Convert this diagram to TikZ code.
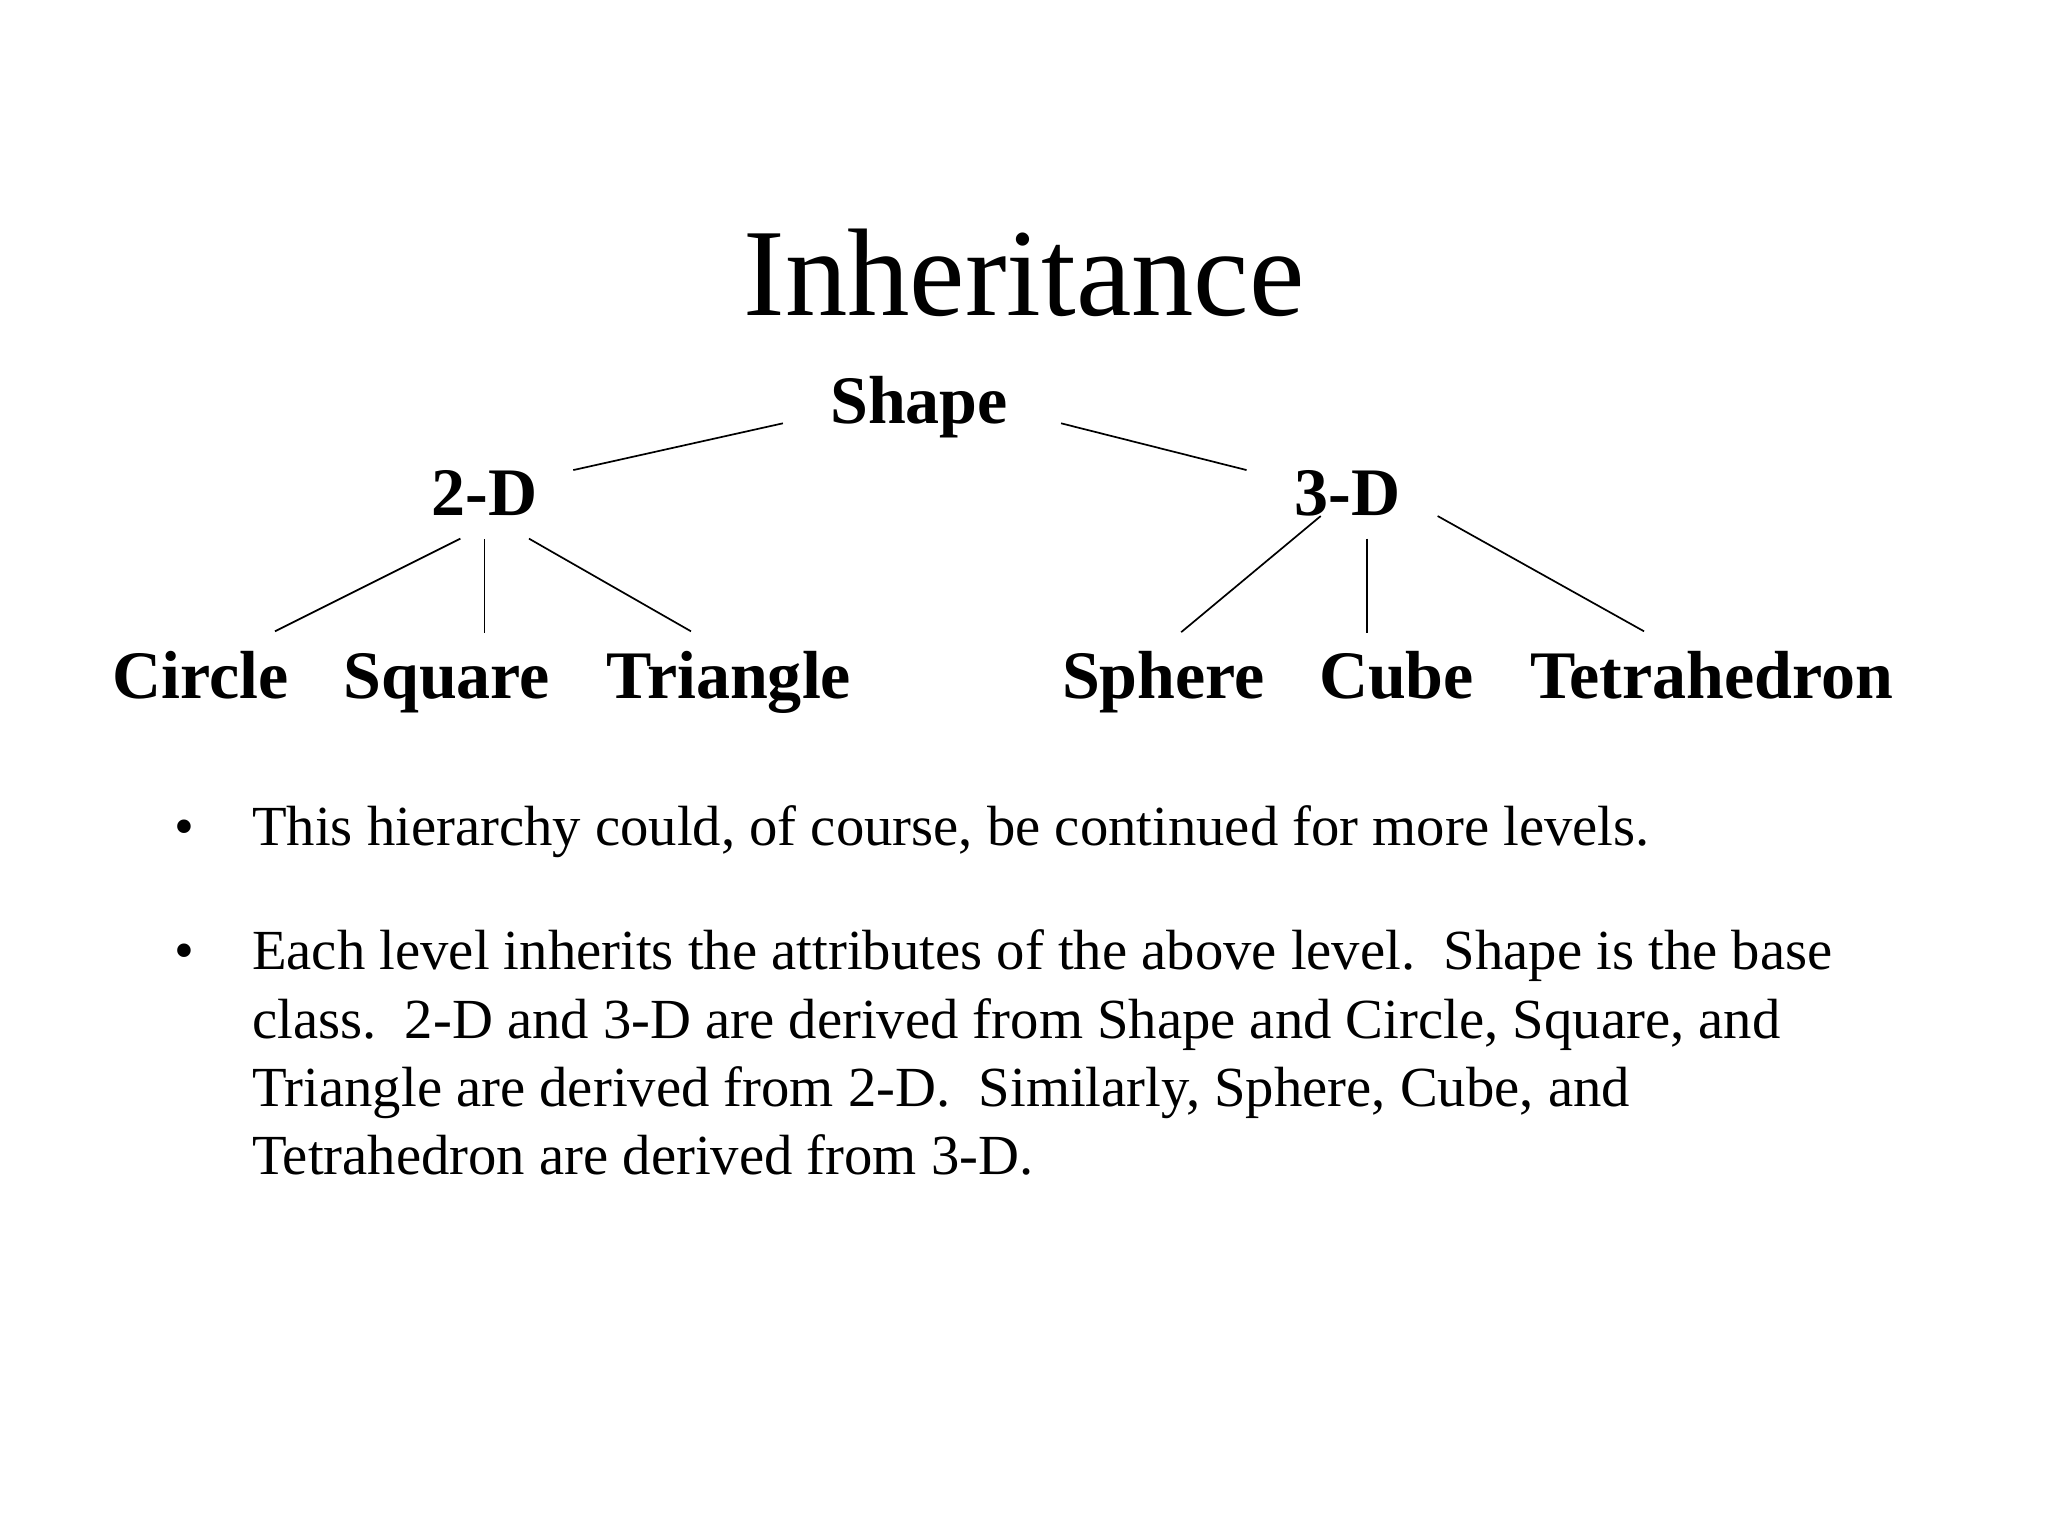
\documentclass[tikz,border=0pt]{standalone}
\usepackage{fontspec}
\setmainfont{Liberation Serif}
\usetikzlibrary{calc, positioning}

\begin{document}
\begin{tikzpicture}[
    level/.style={font=\fontsize{24}{28}\selectfont\bfseries, inner sep=0pt, anchor=base},
    edge/.style={line width=0.6pt},
    dot/.style={font=\fontsize{20}{24}\selectfont, inner sep=0pt, anchor=base},
    para/.style={font=\fontsize{20}{24}\selectfont, inner sep=0pt, anchor=base west}
  ]
        \useasboundingbox (0,0) rectangle (25.4,-19.05);

        \node[font=\fontsize{44}{52}\selectfont, inner sep=0pt, anchor=base] (title) at (12.70,-3.91) {Inheritance};

        % the tree
        \node[level] (shape) at (11.40,-5.25) {Shape};
        \node[level] (twod) at (6.01,-6.39) {2-D};
        \node[level] (threed) at (16.71,-6.39) {3-D};

        \node[level] (circle) at (2.49,-8.66) {Circle};
        \node[level] (square) at (5.54,-8.66) {Square};
        \node[level] (triangle) at (9.04,-8.66) {Triangle};
        \node[level] (sphere) at (14.43,-8.66) {Sphere};
        \node[level] (cube) at (17.32,-8.66) {Cube};
        \node[level] (tetra) at (21.23,-8.66) {Tetrahedron};

        \draw[edge] ([xshift=-1.69cm]shape.base) -- ([xshift=1.10cm, yshift=0.56cm]twod.base);
        \draw[edge] ([xshift=1.76cm]shape.base) -- ([xshift=-1.25cm, yshift=0.56cm]threed.base);

        \draw[edge] ([xshift=-0.30cm, yshift=-0.29cm]twod.base) -- ([xshift=0.92cm, yshift=0.83cm]circle.base);
        \draw[edge] ([yshift=-0.30cm]twod.base) -- ([yshift=0.81cm]twod.base |- square.base);
        \draw[edge] ([xshift=0.55cm, yshift=-0.29cm]twod.base) -- ([xshift=-0.47cm, yshift=0.83cm]triangle.base);

        \draw[edge] ([xshift=-0.33cm, yshift=-0.01cm]threed.base) -- ([xshift=0.22cm, yshift=0.82cm]sphere.base);
        \draw[edge] ([xshift=0.24cm, yshift=-0.29cm]threed.base) -- ([xshift=0.24cm, yshift=0.81cm]threed.base |- cube.base);
        \draw[edge] ([xshift=1.12cm, yshift=-0.01cm]threed.base) -- ([xshift=-0.84cm, yshift=0.83cm]tetra.base);

        % bullets
        \node[dot] (dot1) at (2.29,-10.49) {•};
        \node[para] (item1) at (3.12,-10.49) {This hierarchy could, of course, be continued for more levels.};
        \node[dot] (dot2) at (2.29,-12.03) {•};
        \node[para] (item2) at (3.12,-12.03) {\begin{tabular}[t]{@{}l@{}}
            Each level inherits the attributes of the above level.\ \ Shape is the base\\
            class.\ \ 2-D and 3-D are derived from Shape and Circle, Square, and\\
            Triangle are derived from 2-D.\ \ Similarly, Sphere, Cube, and\\
            Tetrahedron are derived from 3-D.
          \end{tabular}};

\end{tikzpicture}
\end{document}
